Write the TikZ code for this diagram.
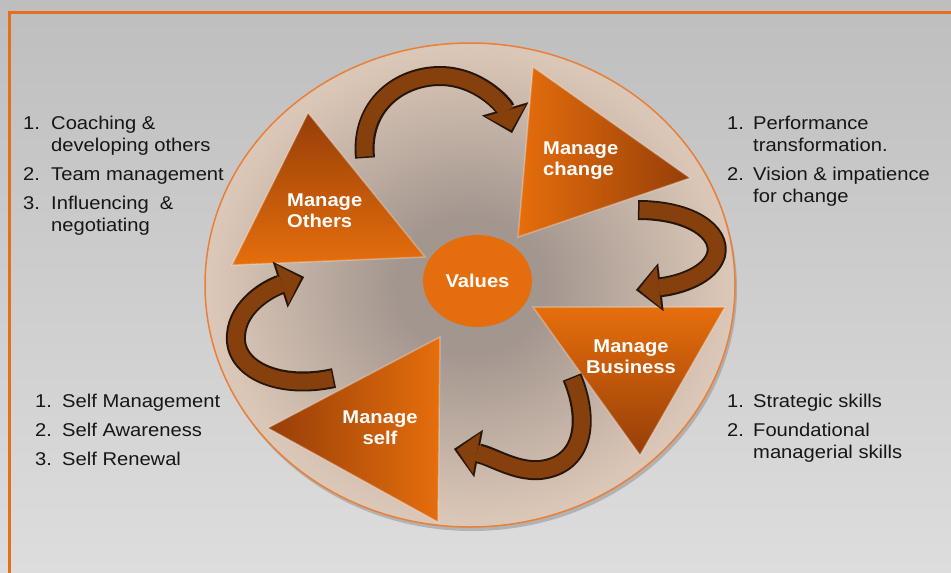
\documentclass[tikz,border=0pt]{standalone}
\usepackage{fontspec}
\setmainfont{Liberation Sans}[FakeStretch=1.09]
\usetikzlibrary{arrows.meta,shapes.geometric}

\definecolor{frameorange}{RGB}{228,112,30}
\definecolor{bgtop}{RGB}{190,190,190}
\definecolor{bgbottom}{RGB}{221,221,221}
\definecolor{discin}{RGB}{163,150,143}
\definecolor{discmid}{RGB}{218,198,182}
\definecolor{discout}{RGB}{240,219,200}
\definecolor{discrim}{RGB}{232,128,55}
\definecolor{triorange}{RGB}{230,110,12}
\definecolor{tribrown}{RGB}{150,62,8}
\definecolor{valorange}{RGB}{228,110,14}
\definecolor{arrowfill}{RGB}{134,64,14}
\definecolor{arrowedge}{RGB}{38,22,10}
\definecolor{listtext}{RGB}{22,22,22}

% soft radial fill of the big disc
\pgfdeclareradialshading{discshade}{\pgfpoint{0bp}{0bp}}{%
  color(0bp)=(discin); color(7bp)=(discin); color(24bp)=(discmid); color(40bp)=(discout); color(50bp)=(discout)}

\begin{document}
\begin{tikzpicture}[x=1pt,y=-1pt,
  listitem/.style={anchor=base west, inner sep=0pt,
    font=\fontsize{18.5}{21}\selectfont, text=listtext},
  steplabel/.style={inner sep=0pt,
    font=\fontsize{18.5}{21}\selectfont\bfseries, text=white},
  flowedge/.style={line width=20pt, draw=arrowedge,
    -{Triangle[width=48pt,length=25pt,line width=0.1pt]}},
  flowfill/.style={line width=16pt, draw=arrowfill,
    shorten >=3pt, shorten <=1.5pt,
    -{Triangle[width=41pt,length=20pt,line width=0.1pt]}},
  tri/.style={draw=white, draw opacity=0.3, line width=1.5pt}]

\useasboundingbox (0,0) rectangle (951,573);

% backdrop and frame
\shade[top color=bgtop, bottom color=bgbottom] (0,0) rectangle (951,573);
\draw[frameorange, line width=3pt] (951,12) -- (9,12) -- (9,573);

% big disc with its shadow
\fill[black!45, opacity=0.5] (472,289) ellipse [x radius=265pt, y radius=242pt];
\shade[shading=discshade] (470,285) ellipse [x radius=265pt, y radius=242pt];
\draw[discrim, line width=1.5pt] (470,285) ellipse [x radius=265pt, y radius=242pt];

% the four triangles
\shade[tri, top color=tribrown, bottom color=triorange]
  (308,113) -- (232,265) -- (425,257) -- cycle;
\shade[tri, left color=triorange, right color=tribrown]
  (533,67) -- (690,178) -- (518,237) -- cycle;
\shade[tri, top color=triorange, bottom color=tribrown]
  (533,307) -- (725,307) -- (640,455) -- cycle;
\shade[tri, left color=tribrown, right color=triorange]
  (440,337) -- (268,428) -- (438,522) -- cycle;

% centre
\fill[black!40, opacity=0.35] (479,284) ellipse [x radius=54.5pt, y radius=46pt];
\node[ellipse, fill=valorange, minimum width=109pt, minimum height=92pt,
      inner sep=0pt, steplabel] (values) at (477.5,281) {Values};

% arrow end points
\coordinate (a1s) at (365,158);
\coordinate (a1e) at (512,133);
\coordinate (a2s) at (638,210);
\coordinate (a2e) at (636,290);
\coordinate (a3s) at (572,377);
\coordinate (a3e) at (454,449);
\coordinate (a4s) at (334,378);
\coordinate (a4e) at (304,277);

% curved arrows: dark outline first, fill on top
\foreach \sty in {flowedge,flowfill}{
  \draw[\sty] (a1s) .. controls (360,105) and (400,76) .. (440,76)
                   .. controls (478,76) and (504,105) .. (a1e);
  \draw[\sty] (a2s) .. controls (690,210) and (722,232) .. (716,255)
                   .. controls (710,275) and (680,285) .. (a2e);
  \draw[\sty] (a3s) .. controls (590,420) and (585,465) .. (540,470)
                   .. controls (515,472) and (492,456) .. (a3e);
  \draw[\sty] (a4s) .. controls (280,390) and (233,370) .. (236,335)
                   .. controls (238,305) and (270,288) .. (a4e);
}

% triangle captions
\node[steplabel, anchor=base west] (othersA) at (287,206.5) {Manage};
\node[steplabel, anchor=base west] (othersB) at (287,227.5) {Others};
\node[steplabel, anchor=base west] (changeA) at (543,154) {Manage};
\node[steplabel, anchor=base west] (changeB) at (543,175) {change};
\node[steplabel, anchor=base] (businessA) at (631,352) {Manage};
\node[steplabel, anchor=base] (businessB) at (631,373) {Business};
\node[steplabel, anchor=base] (selfA) at (380,423) {Manage};
\node[steplabel, anchor=base] (selfB) at (380,444) {self};

% competences of Manage Others
\node[listitem] (o1n) at (23,129.5) {1.};
\node[listitem] (o1a) at (51,129.5) {Coaching \&};
\node[listitem] (o1b) at (51,151.5) {developing others};
\node[listitem] (o2n) at (23,180.5) {2.};
\node[listitem] (o2a) at (51,180.5) {Team management};
\node[listitem] (o3n) at (23,209.5) {3.};
\node[listitem] (o3a) at (51,209.5) {Influencing~~\&};
\node[listitem] (o3b) at (51,231.5) {negotiating};

% competences of Manage change
\node[listitem] (c1n) at (727,129) {1.};
\node[listitem] (c1a) at (753,129) {Performance};
\node[listitem] (c1b) at (753,151) {transformation.};
\node[listitem] (c2n) at (727,180) {2.};
\node[listitem] (c2a) at (753,180) {Vision \& impatience};
\node[listitem] (c2b) at (753,202) {for change};

% competences of Manage self
\node[listitem] (s1n) at (35,407.5) {1.};
\node[listitem] (s1a) at (62,407.5) {Self Management};
\node[listitem] (s2n) at (35,436.5) {2.};
\node[listitem] (s2a) at (62,436.5) {Self Awareness};
\node[listitem] (s3n) at (35,465.5) {3.};
\node[listitem] (s3a) at (62,465.5) {Self Renewal};

% competences of Manage Business
\node[listitem] (b1n) at (727,407.5) {1.};
\node[listitem] (b1a) at (753,407.5) {Strategic skills};
\node[listitem] (b2n) at (727,436.5) {2.};
\node[listitem] (b2a) at (753,436.5) {Foundational};
\node[listitem] (b2b) at (753,458.5) {managerial skills};

\end{tikzpicture}
\end{document}
